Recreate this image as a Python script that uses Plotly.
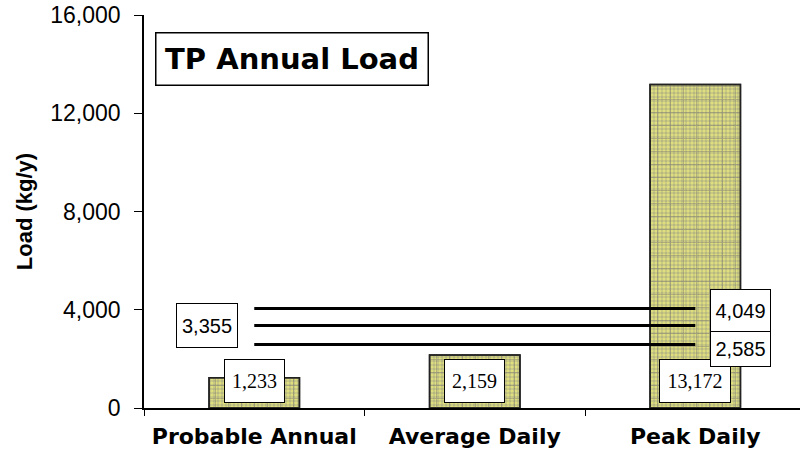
import plotly.graph_objects as go

categories = ["Probable Annual", "Average Daily", "Peak Daily"]
loads = [1233, 2159, 13172]
load_labels = ["1,233", "2,159", "13,172"]
line_upper = [4049, 4049, 4049]
line_mean = [3355, 3355, 3355]
line_lower = [2585, 2585, 2585]
y_ticks = [0, 4000, 8000, 12000, 16000]

fig = go.Figure()
# checkered base of the bars
fig.add_trace(go.Bar(
    x=categories, y=loads, width=0.41,
    marker=dict(color="#d0d088", line=dict(color="#222222", width=1.5),
                pattern=dict(shape=".", fgcolor="#8e8e86", bgcolor="#e2e27e", size=4, solidity=0.6)),
    showlegend=False, hoverinfo="skip"))
# plus-sign overlay of the bars
fig.add_trace(go.Bar(
    x=categories, y=loads, width=0.41,
    marker=dict(color="rgba(0,0,0,0)", line=dict(color="#222222", width=1.5),
                pattern=dict(shape="+", fgcolor="#707070", bgcolor="rgba(0,0,0,0)", size=13, solidity=0.12)),
    showlegend=False, hoverinfo="skip"))
for vals in (line_upper, line_mean, line_lower):
    fig.add_trace(go.Scatter(x=categories, y=vals, mode="lines",
                             line=dict(color="black", width=3), showlegend=False, hoverinfo="skip"))

box = dict(bgcolor="white", bordercolor="black", borderwidth=1, borderpad=0, showarrow=False,
           xref="x", yref="y")
for c, v, t in zip(categories, loads, load_labels):
    fig.add_annotation(x=c, y=0, text=t, yanchor="bottom", yshift=5,
                       font=dict(family="Liberation Serif", size=20, color="black"),
                       width=70 if len(t) > 5 else 59, height=42, **box)
fig.add_annotation(x=categories[0], y=line_mean[0], text="3,355", xshift=-47, yshift=0,
                   font=dict(family="Liberation Sans", size=20, color="black"), width=60, height=43, **box)
fig.add_annotation(x=categories[2], y=line_upper[2], text="4,049", xshift=45, yshift=-2,
                   font=dict(family="Liberation Sans", size=20, color="black"), width=59, height=41, **box)
fig.add_annotation(x=categories[2], y=line_lower[2], text="2,585", xshift=45, yshift=-4,
                   font=dict(family="Liberation Sans", size=20, color="black"), width=59, height=34, **box)
fig.add_annotation(x=(292 - 144) / 656, y=1 - (58.5 - 15) / 393, xref="paper", yref="paper",
                   text="<b>TP Annual Load</b>", showarrow=False, xanchor="center", yanchor="middle",
                   font=dict(family="DejaVu Sans", size=29, color="black"),
                   bgcolor="white", bordercolor="black", borderwidth=1.5, borderpad=0, width=271, height=51)

fig.update_layout(
    width=801, height=463,
    margin=dict(l=144, r=1, t=15, b=55),
    paper_bgcolor="white", plot_bgcolor="white",
    barmode="overlay",
    xaxis=dict(type="category", range=[-0.5, 2.475], showline=True, linecolor="black", linewidth=1.5,
               ticks="outside", tickson="boundaries", ticklen=6, tickcolor="black",
               tickfont=dict(family="DejaVu Sans", size=22, color="black", weight="bold"),
               ticklabelstandoff=8, showgrid=False, zeroline=False),
    yaxis=dict(range=[0, 16000], tickvals=y_ticks, tickformat=",", showline=True, linecolor="black",
               linewidth=1.5, ticks="outside", ticklen=8, tickcolor="black",
               tickfont=dict(family="Liberation Sans", size=23, color="black"),
               ticklabelstandoff=9, showgrid=False, zeroline=False,
               title=dict(text="<b>Load (kg/y)</b>", font=dict(family="Liberation Sans", size=22, color="black"),
                          standoff=12)),
)
fig.write_html("out.html", config={"displayModeBar": False},
               post_script="document.body.style.margin='0';")
